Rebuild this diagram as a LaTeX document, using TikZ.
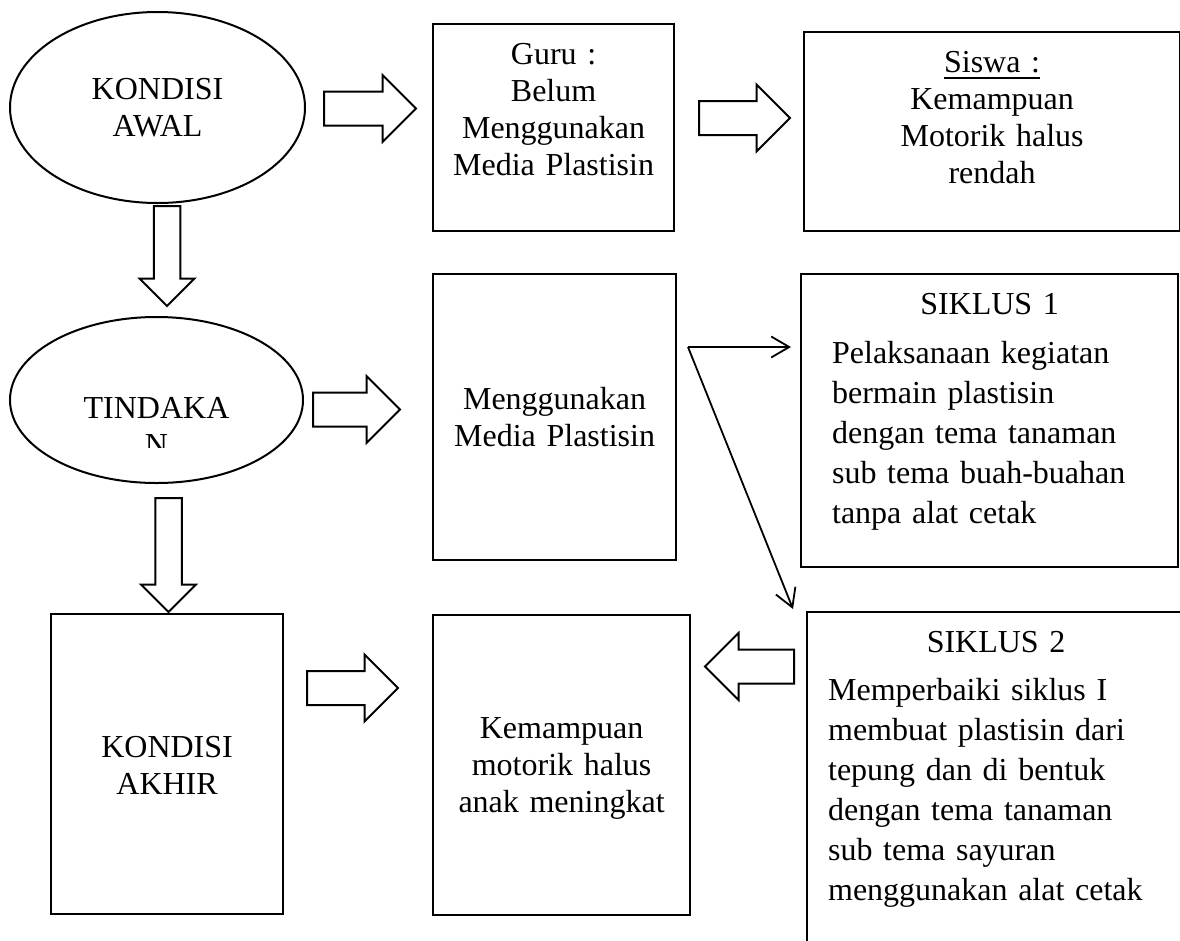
\documentclass[tikz,border=0pt]{standalone}
\usepackage{fontspec}
\setmainfont{Liberation Serif}
\usetikzlibrary{arrows.meta,shapes.geometric,shapes.arrows}
\tikzset{kotak/.style n args={3}{draw,line width=2.2pt,anchor=north west,inner sep=0pt,text width=#1,align=center,text height=#2,text depth=#3},
  siklus/.style={align=left,font=\fontsize{32}{40}\selectfont},
  elips/.style={draw,ellipse,line width=2pt,inner sep=0pt,align=center},
  panah/.style={single arrow,draw,line width=2pt,anchor=tail,inner xsep=0pt,inner ysep=16pt,minimum width=65pt,single arrow head extend=16.5pt},
  turun/.style={panah,rotate=-90,inner ysep=12.25pt,minimum width=53pt,single arrow head extend=14.25pt},
  garis/.style={line width=1.8pt,-{Straight Barb[length=18pt,width=21pt]}}}
\newcommand{\garisbawah}[1]{\leavevmode\vtop{\hbox{#1}\kern4.5pt\hrule height1.5pt}}

\begin{document}
\begin{tikzpicture}[x=1pt,y=-1pt,font=\fontsize{32}{37}\selectfont]
\useasboundingbox (0,0) rectangle (1180,940);
\clip (0,0) rectangle (1180,940);
% Top row: the starting situation.
\node[elips,minimum width=295pt,minimum height=191pt] (awal) at (157.5,107.5) {KONDISI\\AWAL};
\node[kotak={241pt}{40pt}{167pt}] (guru) at (432,23) {Guru :\\Belum\\Menggunakan\\Media Plastisin};
\node[kotak={376pt}{40pt}{159pt}] (siswa) at (803,31) {\garisbawah{Siswa :}\\Kemampuan\\Motorik halus\\rendah};
% Middle row: the action, its label cut off by the shape.
\node[elips,minimum width=293pt,minimum height=166pt] (tindakan) at (156.5,400) {};
\begin{scope}
  \clip (0,300) rectangle (320,447);
  \node[align=center,inner sep=0pt] (tindakanteks) at (156.5,426) {TINDAKA\\N};
\end{scope}
\node[kotak={243pt}{135pt}{151pt}] (pakai) at (432,273) {Menggunakan\\Media Plastisin};
\node[kotak={315pt}{40pt}{253pt},inner xsep=31pt,siklus] (siklus1) at (800,273)
  {\makebox[\linewidth]{SIKLUS 1}\\[9pt]Pelaksanaan kegiatan\\bermain plastisin\\dengan tema tanaman\\sub tema buah-buahan\\tanpa alat cetak};
% Bottom row: the result; the second cycle runs past the page edge.
\node[kotak={232pt}{143pt}{157pt}] (akhir) at (50,613) {KONDISI\\AKHIR};
\node[kotak={257pt}{123pt}{177pt}] (hasil) at (432,614) {Kemampuan\\motorik halus\\anak meningkat};
\node[kotak={336pt}{40pt}{310pt},inner xsep=21pt,siklus] (siklus2) at (806,611)
  {\makebox[\linewidth]{SIKLUS 2}\\[8pt]Memperbaiki siklus I\\membuat plastisin dari\\tepung dan di bentuk\\dengan tema tanaman\\sub tema sayuran\\menggunakan alat cetak};
% Hollow block arrows between the stages, placed by their tails.
\node[panah,minimum height=92pt] (p1) at (323,108.5) {};
\node[panah,minimum height=91pt] (p2) at (698,118) {};
\node[panah,minimum height=87pt] (p3) at (312,409.5) {};
\node[panah,minimum height=91pt] (p4) at (306,688) {};
\node[panah,minimum height=89pt,rotate=180] (p5) at (795,666.5) {};
\node[turun,minimum height=100pt] (t1) at (167,205) {};
\node[turun,minimum height=114pt] (t2) at (168.5,497) {};
% Thin arrows fanning out to both cycles.
\coordinate (cabang) at (688,347);
\draw[garis,shorten >=9pt] (cabang) -- (cabang -| siklus1.west);
\draw[garis] (cabang) -- ([shift={(-13pt,2pt)}]siklus2.north west);
\end{tikzpicture}
\end{document}
